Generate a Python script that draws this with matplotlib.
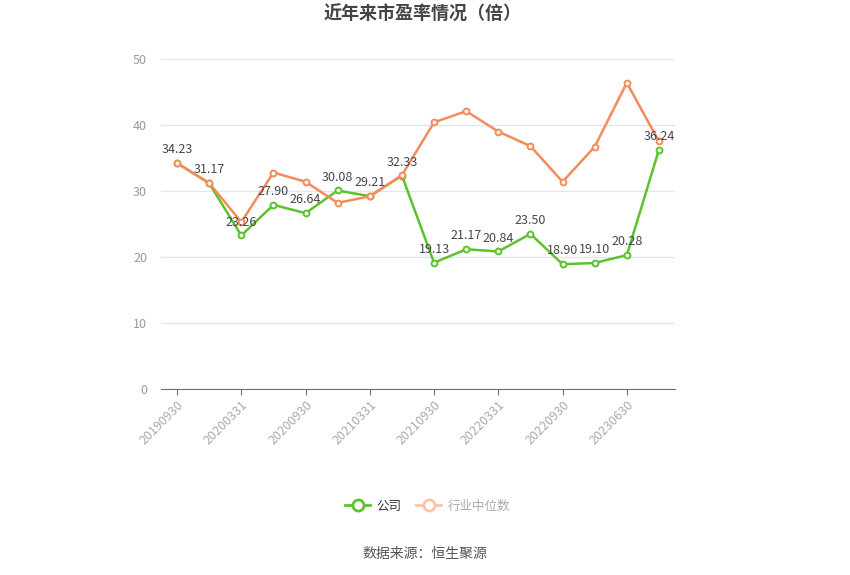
import matplotlib
matplotlib.use("Agg")
import matplotlib.pyplot as plt
from matplotlib.lines import Line2D

plt.rcParams['font.family'] = ['Noto Sans CJK SC', 'DejaVu Sans']

dates = ["20190930", "20191231", "20200331", "20200630", "20200930", "20201231",
         "20210331", "20210630", "20210930", "20211231", "20220331", "20220630",
         "20220930", "20221231", "20230630", "20230930"]
tick_labels = ["20190930", "20200331", "20200930", "20210331",
               "20210930", "20220331", "20220930", "20230630"]
company = [34.23, 31.17, 23.26, 27.90, 26.64, 30.08, 29.21, 32.33,
           19.13, 21.17, 20.84, 23.50, 18.90, 19.10, 20.28, 36.24]
industry = [34.23, 31.2, 25.3, 32.8, 31.4, 28.2, 29.2, 32.4,
            40.4, 42.1, 39.0, 36.8, 31.4, 36.7, 46.4, 37.5]

green = '#5CC22D'
orange = '#F58A5A'

fig = plt.figure(figsize=(8.5, 5.75), dpi=100)
ax = fig.add_axes([161/850, 1-389/575, (675-161)/850, (389-59)/575])

x = list(range(len(dates)))
ax.plot(x, company, color=green, lw=1.8, marker='o', ms=4.2, mfc='white',
        mec=green, mew=1.4, zorder=3)
ax.plot(x, industry, color=orange, lw=1.8, marker='o', ms=4.2, mfc='white',
        mec=orange, mew=1.4, zorder=4)

for xi, v in zip(x, company):
    ax.annotate(f"{v:.2f}", (xi, v), xytext=(0, 5), textcoords='offset points',
                ha='center', va='bottom', fontsize=9, color='#464646', zorder=5)

ax.set_xlim(-0.5, len(dates) - 0.5)
ax.set_ylim(0, 50)
ax.set_yticks([0, 10, 20, 30, 40, 50])
ax.set_xticks(x[::2])
ax.set_xticklabels(tick_labels, rotation=45, ha='right', rotation_mode='anchor')

ax.grid(axis='y', color='#E0E6F1', lw=1)
ax.set_axisbelow(True)
for s in ['top', 'right', 'left']:
    ax.spines[s].set_visible(False)
ax.spines['bottom'].set_color('#6E7079')
ax.tick_params(axis='y', length=0, pad=10, labelsize=9, labelcolor='#999999')
ax.tick_params(axis='x', length=4, color='#6E7079', pad=3, labelsize=9,
               labelcolor='#AAAAAA')

fig.text(0.497, 1-14/575, "近年来市盈率情况（倍）", ha='center', va='center',
         fontsize=13, fontweight='bold', color='#444444')

handles = [Line2D([], [], color=green, lw=2, marker='o', ms=8, mfc='white', mec=green, mew=2),
           Line2D([], [], color='#F9C2AA', lw=2, marker='o', ms=8, mfc='white', mec='#F9C2AA', mew=2)]
leg = fig.legend(handles, ['公司', '行业中位数'], loc='center', ncol=2,
                 bbox_to_anchor=(0.503, 1-506/575), frameon=False, fontsize=9,
                 handlelength=2.0, columnspacing=1.2, handletextpad=0.5)
leg.get_texts()[0].set_color('#333333')
leg.get_texts()[1].set_color('#AAAAAA')

fig.text(0.5, 1-554/575, "数据来源：恒生聚源", ha='center', va='center',
         fontsize=10, color='#555555')

fig.savefig('out.png', dpi=100)
